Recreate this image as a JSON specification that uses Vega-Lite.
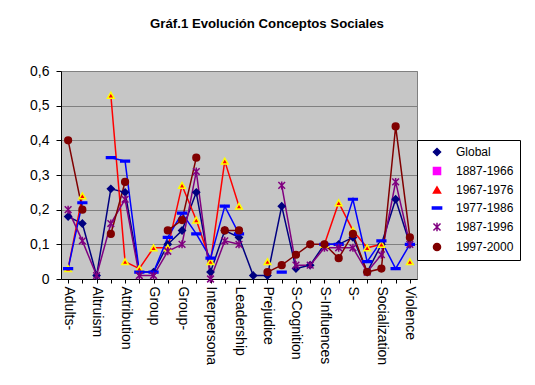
{
  "$schema": "https://vega.github.io/schema/vega-lite/v6.json",
  "width": 356,
  "height": 208,
  "autosize": {"type": "none"},
  "padding": {"left": 61, "top": 71, "right": 118, "bottom": 106},
  "background": "white",
  "title": {
    "text": "Gráf.1 Evolución Conceptos Sociales",
    "font": "Liberation Sans",
    "fontSize": 13.2,
    "fontWeight": "bold",
    "color": "black",
    "anchor": "middle",
    "frame": "group",
    "dx": 28,
    "offset": 33
  },
  "data": {
    "values": [
      {"cat": "Adults-", "Global": 0.18, "1967-1976": 0.03, "1977-1986": 0.03, "1987-1996": 0.20, "1997-2000": 0.40},
      {"cat": "Aggression", "Global": 0.16, "1967-1976": 0.24, "1977-1986": 0.22, "1987-1996": 0.11, "1997-2000": 0.20},
      {"cat": "Altruism", "Global": 0.01, "1967-1976": null, "1977-1986": null, "1987-1996": 0.01, "1997-2000": null},
      {"cat": "Attitudes", "Global": 0.26, "1967-1976": 0.53, "1977-1986": 0.35, "1987-1996": 0.16, "1997-2000": 0.13},
      {"cat": "Attribution", "Global": 0.25, "1967-1976": 0.05, "1977-1986": 0.34, "1987-1996": 0.23, "1997-2000": 0.28},
      {"cat": "Emotion", "Global": 0.02, "1967-1976": 0.03, "1977-1986": 0.02, "1987-1996": 0.01, "1997-2000": null},
      {"cat": "Group", "Global": 0.02, "1967-1976": 0.09, "1977-1986": 0.02, "1987-1996": 0.01, "1997-2000": null},
      {"cat": "Group Dynamics", "Global": 0.10, "1967-1976": 0.09, "1977-1986": 0.12, "1987-1996": 0.08, "1997-2000": 0.14},
      {"cat": "Group-", "Global": 0.14, "1967-1976": 0.27, "1977-1986": 0.19, "1987-1996": 0.10, "1997-2000": 0.17},
      {"cat": "Helping", "Global": 0.25, "1967-1976": 0.17, "1977-1986": 0.13, "1987-1996": 0.31, "1997-2000": 0.35},
      {"cat": "Interpersona", "Global": 0.02, "1967-1976": 0.05, "1977-1986": 0.06, "1987-1996": 0.00, "1997-2000": null},
      {"cat": "Language", "Global": 0.14, "1967-1976": 0.34, "1977-1986": 0.21, "1987-1996": 0.11, "1997-2000": 0.14},
      {"cat": "Leadership", "Global": 0.12, "1967-1976": 0.21, "1977-1986": 0.13, "1987-1996": 0.10, "1997-2000": 0.14},
      {"cat": "Persuasion", "Global": 0.01, "1967-1976": null, "1977-1986": null, "1987-1996": null, "1997-2000": null},
      {"cat": "Prejudice", "Global": 0.01, "1967-1976": 0.05, "1977-1986": null, "1987-1996": null, "1997-2000": 0.02},
      {"cat": "Relationships", "Global": 0.21, "1967-1976": null, "1977-1986": 0.02, "1987-1996": 0.27, "1997-2000": 0.04},
      {"cat": "S-Cognition", "Global": 0.03, "1967-1976": null, "1977-1986": null, "1987-1996": 0.04, "1997-2000": 0.07},
      {"cat": "S-Identity", "Global": 0.04, "1967-1976": null, "1977-1986": null, "1987-1996": 0.04, "1997-2000": 0.10},
      {"cat": "S-Influences", "Global": 0.10, "1967-1976": 0.10, "1977-1986": 0.10, "1987-1996": 0.09, "1997-2000": 0.10},
      {"cat": "S-Perception", "Global": 0.10, "1967-1976": 0.22, "1977-1986": 0.10, "1987-1996": 0.09, "1997-2000": 0.06},
      {"cat": "S-", "Global": 0.12, "1967-1976": 0.14, "1977-1986": 0.23, "1987-1996": 0.09, "1997-2000": 0.13},
      {"cat": "Self", "Global": 0.02, "1967-1976": 0.09, "1977-1986": 0.05, "1987-1996": 0.02, "1997-2000": 0.02},
      {"cat": "Socialization", "Global": 0.10, "1967-1976": 0.10, "1977-1986": 0.11, "1987-1996": 0.07, "1997-2000": 0.03},
      {"cat": "Stereotypes", "Global": 0.23, "1967-1976": null, "1977-1986": 0.03, "1987-1996": 0.28, "1997-2000": 0.44},
      {"cat": "Violence", "Global": 0.10, "1967-1976": 0.05, "1977-1986": 0.10, "1987-1996": 0.10, "1997-2000": 0.12}
    ]
  },
  "transform": [
    {"fold": ["Global", "1967-1976", "1977-1986", "1987-1996", "1997-2000"], "as": ["series", "v"]}
  ],
  "encoding": {
    "x": {
      "field": "cat",
      "type": "nominal",
      "sort": null,
      "title": null,
      "axis": {
        "labelAngle": 90,
        "labelAlign": "left",
        "labelBaseline": "middle",
        "labelFontSize": 14,
        "labelPadding": 3,
        "tickSize": 4,
        "labelExpr": "indexof(['Adults-','Altruism','Attribution','Group','Group-','Interpersona','Leadership','Prejudice','S-Cognition','S-Influences','S-','Socialization','Violence'], datum.value) >= 0 ? datum.value : ''",
        "grid": false
      }
    },
    "y": {
      "field": "v",
      "type": "quantitative",
      "title": null,
      "scale": {"domain": [0, 0.6], "nice": false},
      "axis": {
        "values": [0, 0.1, 0.2, 0.3, 0.4, 0.5, 0.6],
        "labelExpr": "datum.value == 0 ? '0' : replace(format(datum.value, '.1f'), '.', ',')",
        "labelFontSize": 14,
        "labelPadding": 7,
        "tickSize": 5,
        "grid": true,
        "gridColor": "#808080",
        "gridOpacity": 1
      }
    }
  },
  "layer": [
    {
      "mark": {"type": "line", "strokeWidth": 1.5, "invalid": "break-paths-filter-domains"},
      "encoding": {
        "color": {
          "field": "series",
          "type": "nominal",
          "scale": {
            "domain": ["Global", "1887-1966", "1967-1976", "1977-1986", "1987-1996", "1997-2000"],
            "range": ["#000080", "#FF00FF", "#FF0000", "#0000FF", "#800080", "#800000"]
          },
          "legend": {"title": null, "fillColor": "white", "strokeColor": "black"}
        }
      }
    },
    {
      "mark": {"type": "point", "filled": true, "size": 45, "strokeWidth": 1.5, "opacity": 1, "invalid": "filter"},
      "encoding": {
        "color": {"field": "series", "type": "nominal", "legend": {"title": null, "fillColor": "white", "strokeColor": "black"}},
        "stroke": {
          "field": "series",
          "type": "nominal",
          "scale": {
            "domain": ["Global", "1887-1966", "1967-1976", "1977-1986", "1987-1996", "1997-2000"],
            "range": ["#000080", "#FF00FF", "#FFFF00", "#0000FF", "#800080", "#800000"]
          },
          "legend": {"title": null, "fillColor": "white", "strokeColor": "black"}
        },
        "shape": {
          "field": "series",
          "type": "nominal",
          "scale": {
            "domain": ["Global", "1887-1966", "1967-1976", "1977-1986", "1987-1996", "1997-2000"],
            "range": ["diamond", "square", "triangle-up", "M-1.3,-0.25H1.3V0.25H-1.3Z", "M-1,-1L1,1M-1,1L1,-1M0,-1.2V1.2", "circle"]
          },
          "legend": {"title": null, "fillColor": "white", "strokeColor": "black"}
        }
      }
    }
  ],
  "config": {
    "view": {"fill": "#c6c6c6", "stroke": "#808080", "strokeWidth": 1},
    "axis": {
      "labelFont": "Liberation Sans",
      "labelColor": "black",
      "domainColor": "black",
      "tickColor": "black",
      "domainWidth": 1
    },
    "legend": {
      "orient": "none",
      "legendX": 356,
      "legendY": 69,
      "fillColor": "white",
      "strokeColor": "black",
      "padding": 6,
      "rowPadding": 5,
      "labelFont": "Liberation Sans",
      "labelFontSize": 12,
      "labelColor": "black",
      "labelOffset": 13,
      "symbolOffset": 8,
      "symbolSize": 50,
      "symbolStrokeWidth": 1.5
    }
  }
}
